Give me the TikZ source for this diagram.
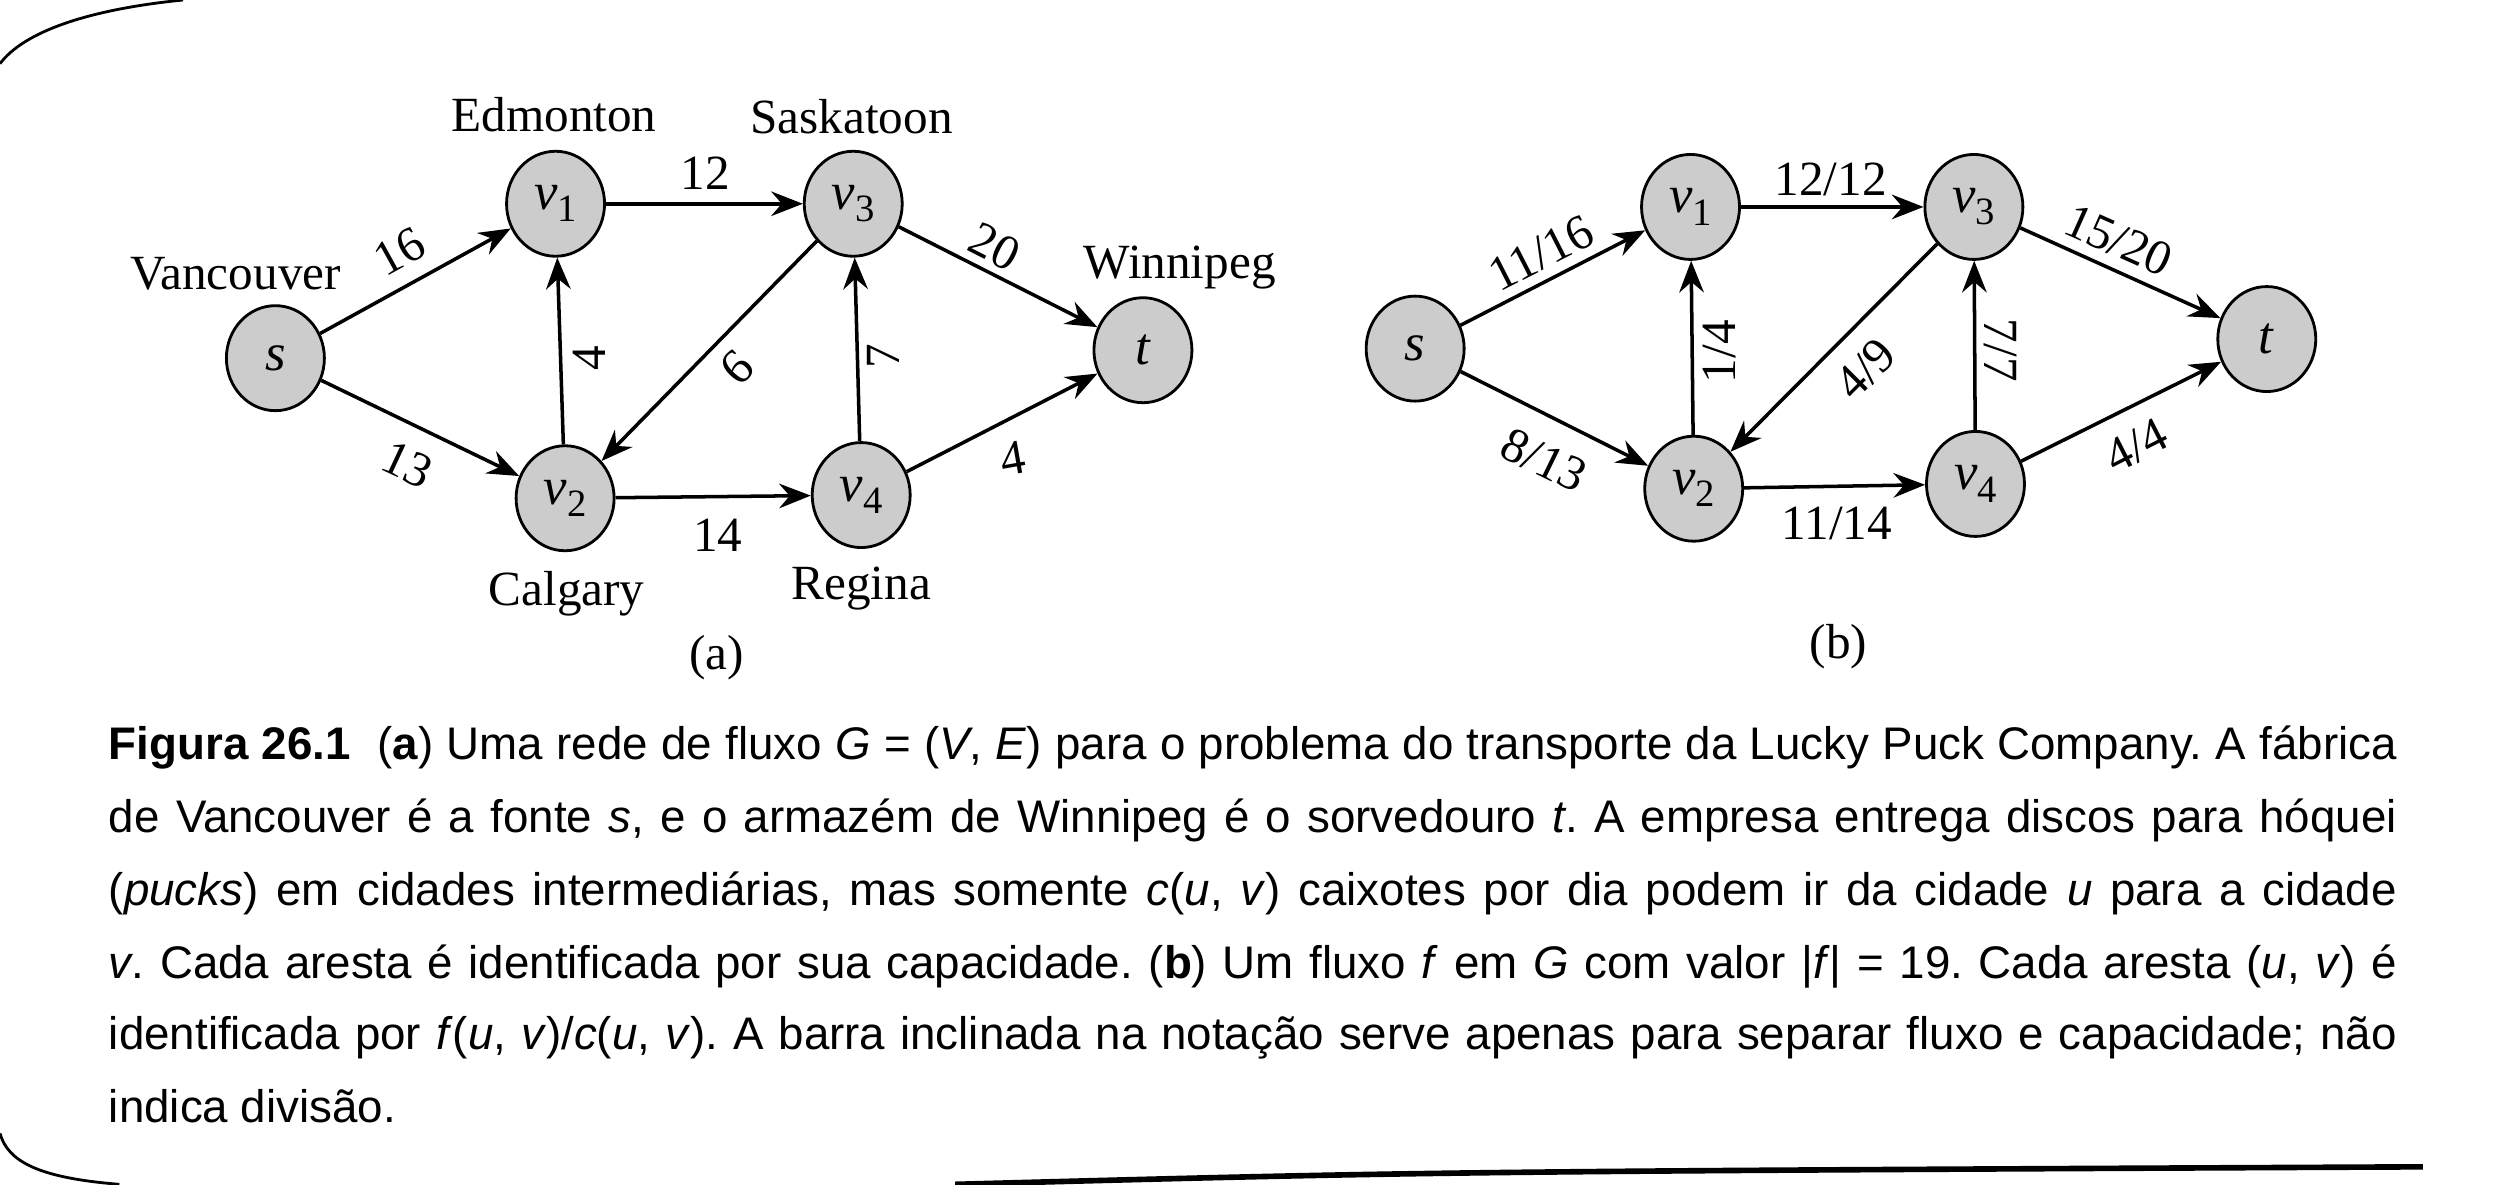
\documentclass[tikz,border=0pt]{standalone}
\usepackage{fontspec}
\setmainfont{Liberation Serif}
\newfontfamily\capfont{Liberation Sans}
\usetikzlibrary{arrows.meta}
\usetikzlibrary{shapes.geometric}

\newcommand{\vname}[1]{\textit{v}\raisebox{-0.5ex}{\fontsize{11}{11}\selectfont #1}}
\newlength{\capw}
\setlength{\capw}{228.8mm}
\frenchspacing

\tikzset{
  vertex/.style={ellipse, draw, line width=0.8pt, fill=black!20,
    minimum width=0.98cm, minimum height=1.05cm, inner sep=0pt,
    font=\fontsize{15}{15}\selectfont},
  flowarrow/.style={-{Stealth[length=9pt,width=7pt,inset=3pt]}, line width=1pt},
  city/.style={font=\fontsize{14}{16}\selectfont, inner sep=0pt},
  weight/.style={font=\fontsize{14}{16}\selectfont, inner sep=0pt},
  capline/.style={font=\capfont\fontsize{13}{16}\selectfont, inner sep=0pt, anchor=base west}
}

\begin{document}
\begin{tikzpicture}[x=0.1592mm, y=-0.1592mm]
  \useasboundingbox (0,0) rectangle (1568,744);

  % page edges
  \draw[line width=0.8pt] (0,40) .. controls (15,20) and (55,6) .. (115,0);
  \draw[line width=0.8pt] (0,712) .. controls (5,730) and (25,740) .. (75,744);
  \draw[line width=1.6pt] (600,744) .. controls (900,736) .. (1522,733);

  % (a) capacities
  \node[vertex] (s) at (173,225) {\textit{s}};
  \node[vertex] (v1) at (349,128) {\vname{1}};
  \node[vertex] (v3) at (536,128) {\vname{3}};
  \node[vertex] (t) at (718,220) {\textit{t}};
  \node[vertex] (v2) at (355,313) {\vname{2}};
  \node[vertex] (v4) at (541,311) {\vname{4}};

  \node[city] (edm) at (348,72) {Edmonton};
  \node[city] (sas) at (535,73) {Saskatoon};
  \node[city] (van) at (148,172) {Vancouver};
  \node[city] (win) at (741,168) {Winnipeg};
  \node[city] (cal) at (356,373) {Calgary};
  \node[city] (reg) at (541,370) {Regina};
  \node[city] (lbla) at (450,413) {(a)};

  \draw[flowarrow] (s) -- (v1);
  \draw[flowarrow] (s) -- (v2);
  \draw[flowarrow] (v1) -- (v3);
  \draw[flowarrow] (v2) -- (v1);
  \draw[flowarrow] (v3) -- (v2);
  \draw[flowarrow] (v2) -- (v4);
  \draw[flowarrow] (v4) -- (v3);
  \draw[flowarrow] (v3) -- (t);
  \draw[flowarrow] (v4) -- (t);

  \node[weight, rotate=29] (c-sv1) at (251,158) {16};
  \node[weight, rotate=-25] (c-sv2) at (256,292) {13};
  \node[weight] (c-v1v3) at (443,109) {12};
  \node[weight, rotate=90] (c-v2v1) at (370,225) {4};
  \node[weight, rotate=-135] (c-v3v2) at (463,231) {9};
  \node[weight] (c-v2v4) at (451,336) {14};
  \node[weight, rotate=90] (c-v4v3) at (555,224) {7};
  \node[weight, rotate=-27] (c-v3t) at (625,155) {20};
  \node[weight, rotate=10] (c-v4t) at (636,288) {4};

  % (b) flow
  \node[vertex] (bs) at (889,219) {\textit{s}};
  \node[vertex] (bv1) at (1062,130) {\vname{1}};
  \node[vertex] (bv3) at (1240,130) {\vname{3}};
  \node[vertex] (bt) at (1424,213) {\textit{t}};
  \node[vertex] (bv2) at (1064,307) {\vname{2}};
  \node[vertex] (bv4) at (1241,304) {\vname{4}};
  \node[city] (lblb) at (1155,406) {(b)};

  \draw[flowarrow] (bs) -- (bv1);
  \draw[flowarrow] (bs) -- (bv2);
  \draw[flowarrow] (bv1) -- (bv3);
  \draw[flowarrow] (bv2) -- (bv1);
  \draw[flowarrow] (bv3) -- (bv2);
  \draw[flowarrow] (bv2) -- (bv4);
  \draw[flowarrow] (bv4) -- (bv3);
  \draw[flowarrow] (bv3) -- (bt);
  \draw[flowarrow] (bv4) -- (bt);

  \node[weight, rotate=27] (f-sv1) at (968,159) {11/16};
  \node[weight, rotate=-26] (f-sv2) at (970,289) {8/13};
  \node[weight] (f-v1v3) at (1150,113) {12/12};
  \node[weight, rotate=90] (f-v2v1) at (1080,221) {1/4};
  \node[weight, rotate=45] (f-v3v2) at (1172,232) {4/9};
  \node[weight] (f-v2v4) at (1154,329) {11/14};
  \node[weight, rotate=-90] (f-v4v3) at (1257,220) {7/7};
  \node[weight, rotate=-24] (f-v3t) at (1331,151) {15/20};
  \node[weight, rotate=27] (f-v4t) at (1342,280) {4/4};

  % caption
  \node[capline] (cap1) at (68,477) {\hbox to\capw{{\bfseries Figura 26.1}\ \ ({\bfseries a}) Uma rede de fluxo \textit{G} = (\textit{V}, \textit{E}) para o problema do transporte da Lucky Puck Company. A fábrica}};
  \node[capline] (cap2) at (68,523) {\hbox to\capw{de Vancouver é a fonte \textit{s}, e o armazém de Winnipeg é o sorvedouro \textit{t}. A empresa entrega discos para hóquei}};
  \node[capline] (cap3) at (68,569) {\hbox to\capw{(\textit{pucks}) em cidades intermediárias, mas somente \textit{c}(\textit{u}, \textit{v}) caixotes por dia podem ir da cidade \textit{u} para a cidade}};
  \node[capline] (cap4) at (68,615) {\hbox to\capw{\textit{v}. Cada aresta é identificada por sua capacidade. ({\bfseries b}) Um fluxo \textit{f} em \textit{G} com valor |\textit{f}| = 19. Cada aresta (\textit{u}, \textit{v}) é}};
  \node[capline] (cap5) at (68,659) {\hbox to\capw{identificada por \textit{f}(\textit{u}, \textit{v})/\textit{c}(\textit{u}, \textit{v}). A barra inclinada na notação serve apenas para separar fluxo e capacidade; não}};
  \node[capline] (cap6) at (68,705) {indica divisão.};
\end{tikzpicture}
\end{document}
